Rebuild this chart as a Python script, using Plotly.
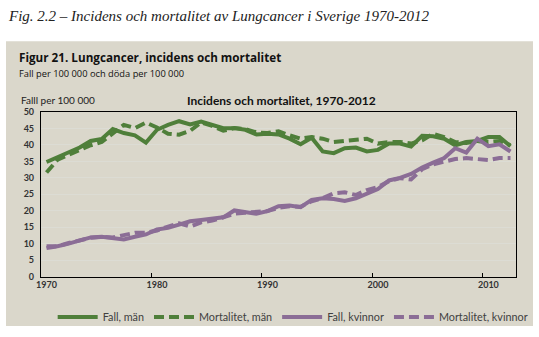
import plotly.graph_objects as go

years = list(range(1970, 2013))

fall_man = [34.8, 36.3, 37.8, 39.2, 41.2, 41.8, 44.8, 43.6, 42.9, 40.7,
            44.6, 46.1, 47.2, 46.2, 47.1, 46.1, 45.1, 45.1, 44.6, 43.2,
            43.4, 43.2, 41.9, 40.2, 42.2, 38.0, 37.5, 39.0, 39.2, 38.0,
            38.5, 40.4, 40.4, 39.5, 42.8, 42.6, 41.9, 39.9, 40.9, 41.2,
            42.4, 42.4, 39.6]
mort_man = [31.6, 35.5, 37.0, 38.5, 39.9, 40.9, 43.4, 46.1, 45.1, 46.8,
            45.3, 43.4, 43.1, 44.3, 46.8, 45.8, 44.3, 45.1, 44.8, 43.8,
            43.6, 44.1, 42.9, 41.9, 42.4, 41.9, 40.9, 41.2, 41.6, 41.9,
            40.4, 40.9, 40.9, 40.4, 41.4, 43.4, 42.4, 40.9, 40.6, 41.1,
            40.9, 41.2, 39.9]
fall_kv = [9.2, 9.2, 10.0, 10.9, 11.9, 12.1, 11.6, 11.3, 12.1, 12.8,
           14.3, 14.8, 15.8, 16.8, 17.2, 17.5, 18.0, 20.1, 19.7, 19.1,
           19.9, 21.4, 21.6, 21.1, 23.3, 23.8, 23.6, 23.0, 23.8, 25.3,
           26.6, 29.2, 30.0, 31.2, 33.1, 34.6, 36.0, 39.0, 37.7, 41.9,
           39.6, 40.2, 38.0]
mort_kv = [8.7, 9.2, 10.2, 11.0, 11.8, 12.1, 11.9, 12.6, 13.3, 13.3,
           14.0, 15.2, 16.2, 15.2, 16.5, 17.0, 18.0, 19.1, 19.4, 19.7,
           19.9, 20.9, 21.4, 21.2, 22.9, 23.8, 25.3, 25.6, 24.8, 26.3,
           27.2, 29.0, 29.9, 29.5, 32.6, 34.1, 34.8, 35.7, 36.0, 35.7,
           35.4, 36.0, 36.0]

x_labels = [1970, 1980, 1990, 2000, 2010]
x_bounds = [1979.5, 1989.5, 1999.5, 2009.5]
y_ticks = list(range(0, 55, 5))

GREEN = "#4F7F3A"
PURPLE = "#8B6D96"
DASH = "10px,5px"

fig = go.Figure()
series = [
    ("Fall, män", fall_man, GREEN, "solid"),
    ("Mortalitet, män", mort_man, GREEN, DASH),
    ("Fall, kvinnor", fall_kv, PURPLE, "solid"),
    ("Mortalitet, kvinnor", mort_kv, PURPLE, DASH),
]
for name, vals, col, dash in series:
    fig.add_trace(go.Scatter(x=years, y=vals, name=name, mode="lines",
                             line=dict(color=col, width=4, dash=dash)))

# invisible trace for overlay axis carrying boundary tick marks
fig.add_trace(go.Scatter(x=[1969.5, 2012.5], y=[0, 0], xaxis="x2", mode="lines",
                         line=dict(width=0), showlegend=False, hoverinfo="skip"))

PL, PR, PT, PB = 41, 516, 112, 282
W, H = 539, 337

def px(x):
    return (x - PL) / (PR - PL)

def py(y):
    return (PB - y) / (PB - PT)

fig.update_layout(
    width=W, height=H,
    margin=dict(l=PL, r=W - PR, t=PT, b=H - PB, pad=0),
    paper_bgcolor="white",
    plot_bgcolor="white",
    showlegend=True,
    legend=dict(orientation="h", xref="container", yref="container",
                x=0.543, xanchor="center", y=1 - 317 / H, yanchor="middle",
                font=dict(family="Lato", size=10.8, color="#404040"),
                itemwidth=40, bgcolor="rgba(0,0,0,0)", traceorder="normal"),
    xaxis=dict(range=[1969.5, 2012.5], tickmode="array", tickvals=x_labels,
               ticks="", showgrid=False, zeroline=False,
               showline=True, linecolor="black", linewidth=1.2, mirror=True,
               tickfont=dict(family="Lato", size=9, color="#333333", weight="bold")),
    xaxis2=dict(range=[1969.5, 2012.5], overlaying="x", anchor="y", side="bottom",
                tickmode="array", tickvals=x_bounds, ticks="inside", ticklen=4,
                tickcolor="black", showticklabels=False, showgrid=False,
                zeroline=False, showline=False),
    yaxis=dict(range=[0, 50], tickmode="array", tickvals=y_ticks,
               showgrid=True, gridcolor="#DCDCD4", gridwidth=1, zeroline=False,
               showline=True, linecolor="black", linewidth=1.2, mirror=True,
               ticks="", ticklabelstandoff=4,
               tickfont=dict(family="Lato", size=9, color="#333333", weight="bold")),
    shapes=[dict(type="rect", xref="paper", yref="paper", layer="below",
                 x0=px(6), x1=px(533), y0=py(333), y1=py(39),
                 fillcolor="#DAD7CB", line=dict(width=0))],
    annotations=[
        dict(text="<i>Fig. 2.2 – Incidens och mortalitet av Lungcancer i Sverige 1970-2012</i>",
             xref="paper", yref="paper", x=px(6), y=py(13), xanchor="left", yanchor="middle",
             showarrow=False, font=dict(family="Liberation Serif", size=15, color="#222222")),
        dict(text="<b>Figur 21. Lungcancer, incidens och mortalitet</b>",
             xref="paper", yref="paper", x=px(17), y=py(55), xanchor="left", yanchor="middle",
             showarrow=False, font=dict(family="Open Sans", size=11.7, color="#111111")),
        dict(text="Fall per 100 000 och döda per 100 000",
             xref="paper", yref="paper", x=px(17), y=py(72), xanchor="left", yanchor="middle",
             showarrow=False, font=dict(family="Open Sans", size=9.3, color="#111111")),
        dict(text="Falll per 100 000",
             xref="paper", yref="paper", x=px(19), y=py(100), xanchor="left", yanchor="middle",
             showarrow=False, font=dict(family="Lato", size=10, color="#222222")),
        dict(text="<b>Incidens och mortalitet, 1970-2012</b>",
             xref="paper", yref="paper", x=px(281), y=py(100), xanchor="center", yanchor="middle",
             showarrow=False, font=dict(family="Lato", size=12, color="#111111")),
    ],
)

fig.write_html("out.html")
